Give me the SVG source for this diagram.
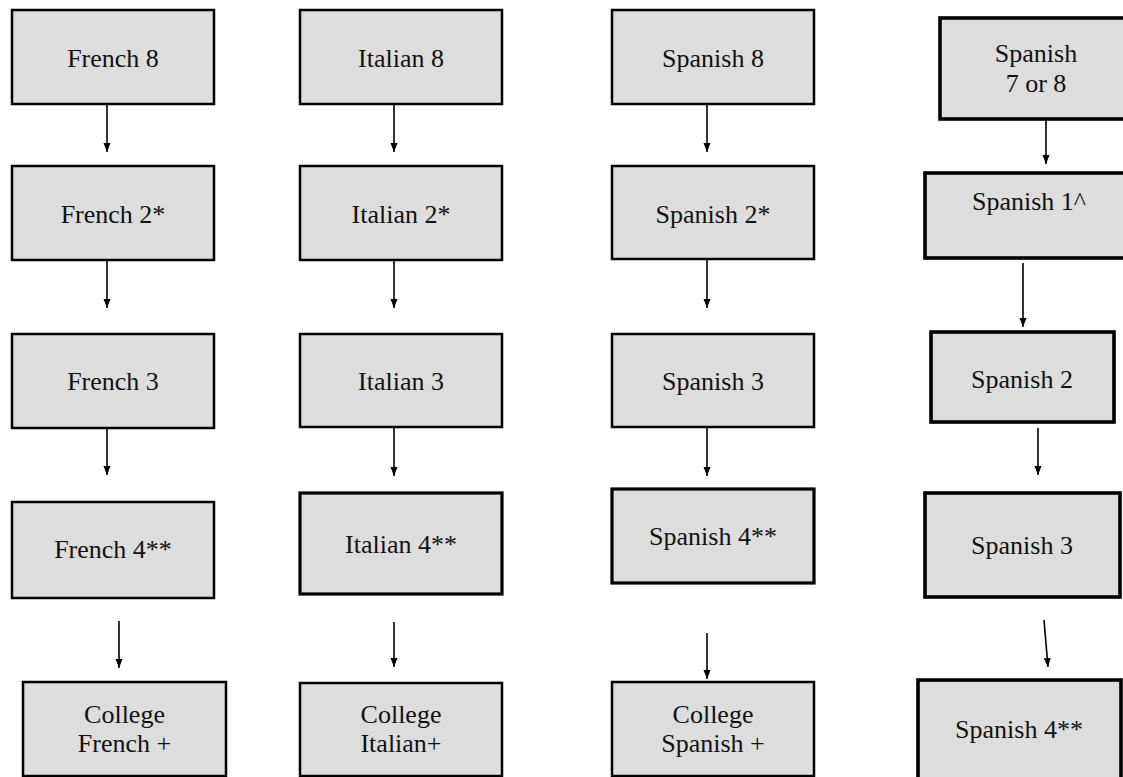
<svg xmlns="http://www.w3.org/2000/svg" width="1123" height="777" viewBox="0 0 1123 777">
<style>
  .box rect { fill: #dddddd; stroke: #000000; stroke-width: 2.5; }
  .box.thick rect { stroke-width: 3.2; }
  .box.heavy rect { stroke-width: 3.6; }
  .box text { font-family: "Liberation Serif", "Times New Roman", serif; font-size: 26px; fill: #111111; text-anchor: middle; }
  .conn line { stroke: #000000; stroke-width: 1.6; fill: none; marker-end: url(#arrow); }
</style>
<defs>
  <marker id="arrow" markerUnits="userSpaceOnUse" markerWidth="8" markerHeight="9" refX="9" refY="3.5" orient="auto">
    <path d="M0,0 L9,3.5 L0,7 z" fill="#000000"/>
  </marker>
</defs>
<rect x="0" y="0" width="1123" height="777" fill="#ffffff"/>

<!-- Column 1: French -->
<g id="french8" class="box"><rect x="12" y="10" width="202" height="94"/><text x="113" y="67">French 8</text></g>
<g id="french2" class="box"><rect x="12" y="166" width="202" height="94"/><text x="113" y="223">French 2*</text></g>
<g id="french3" class="box"><rect x="12" y="334" width="202" height="94"/><text x="113" y="390">French 3</text></g>
<g id="french4" class="box"><rect x="12" y="502" width="202" height="96"/><text x="113" y="558">French 4**</text></g>
<g id="collegeFrench" class="box"><rect x="23" y="682" width="203" height="94"/><text x="124.5" y="723">College</text><text x="124.5" y="752">French +</text></g>

<!-- Column 2: Italian -->
<g id="italian8" class="box"><rect x="300" y="10" width="202" height="94"/><text x="401" y="67">Italian 8</text></g>
<g id="italian2" class="box"><rect x="300" y="166" width="202" height="94"/><text x="401" y="223">Italian 2*</text></g>
<g id="italian3" class="box"><rect x="300" y="334" width="202" height="93"/><text x="401" y="390">Italian 3</text></g>
<g id="italian4" class="box thick"><rect x="300" y="493" width="202" height="101"/><text x="401" y="553">Italian 4**</text></g>
<g id="collegeItalian" class="box"><rect x="300" y="683" width="202" height="93"/><text x="401" y="723">College</text><text x="401" y="752">Italian+</text></g>

<!-- Column 3: Spanish -->
<g id="spanish8" class="box"><rect x="612" y="10" width="202" height="94"/><text x="713" y="67">Spanish 8</text></g>
<g id="spanish2star" class="box"><rect x="612" y="166" width="202" height="93"/><text x="713" y="223">Spanish 2*</text></g>
<g id="spanish3a" class="box"><rect x="612" y="334" width="202" height="93"/><text x="713" y="390">Spanish 3</text></g>
<g id="spanish4a" class="box thick"><rect x="612" y="489" width="202" height="94"/><text x="713" y="545">Spanish 4**</text></g>
<g id="collegeSpanish" class="box"><rect x="612" y="682" width="202" height="94"/><text x="713" y="723">College</text><text x="713" y="752">Spanish +</text></g>

<!-- Column 4: Spanish (7 or 8 track) -->
<g id="spanish78" class="box heavy"><rect x="940" y="18" width="200" height="101"/><text x="1036" y="62">Spanish</text><text x="1036" y="92">7 or 8</text></g>
<g id="spanish1" class="box heavy"><rect x="925" y="173" width="215" height="85"/><text x="1029" y="210">Spanish 1^</text></g>
<g id="spanish2b" class="box heavy"><rect x="931" y="332" width="183" height="90"/><text x="1022" y="388">Spanish 2</text></g>
<g id="spanish3b" class="box heavy"><rect x="925" y="493" width="195" height="104"/><text x="1022" y="554">Spanish 3</text></g>
<g id="spanish4b" class="box heavy"><rect x="918" y="680" width="203" height="110"/><text x="1019" y="738">Spanish 4**</text></g>

<!-- Connectors -->
<g id="connectors" class="conn">
  <line x1="107" y1="104" x2="107" y2="152"/>
  <line x1="107" y1="260" x2="107" y2="308"/>
  <line x1="107" y1="428" x2="107" y2="475"/>
  <line x1="119" y1="621" x2="119" y2="668"/>

  <line x1="394" y1="104" x2="394" y2="152"/>
  <line x1="394" y1="260" x2="394" y2="308"/>
  <line x1="394" y1="427" x2="394" y2="476"/>
  <line x1="394" y1="622" x2="394" y2="667"/>

  <line x1="707" y1="104" x2="707" y2="152"/>
  <line x1="707" y1="259" x2="707" y2="308"/>
  <line x1="707" y1="427" x2="707" y2="476"/>
  <line x1="707" y1="633" x2="707" y2="679"/>

  <line x1="1046" y1="119" x2="1046" y2="164"/>
  <line x1="1023" y1="263" x2="1023" y2="327"/>
  <line x1="1038" y1="428" x2="1038" y2="475"/>
  <line x1="1044" y1="620" x2="1048" y2="667"/>
</g>
</svg>
